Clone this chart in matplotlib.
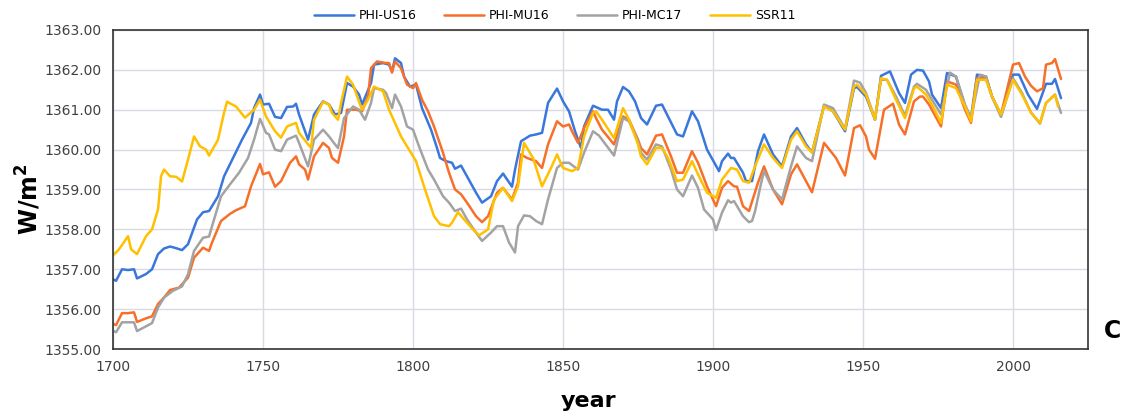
import matplotlib
matplotlib.use("Agg")
import matplotlib.pyplot as plt
from matplotlib.ticker import FormatStrFormatter, MultipleLocator

# PHI-US16
us16_years = [1700, 1701, 1703, 1705, 1707, 1708, 1711, 1713, 1715, 1717, 1719, 1721, 1723, 1725,
              1728, 1730, 1732, 1735, 1737, 1740, 1743, 1746, 1747, 1749, 1750, 1752, 1754, 1756,
              1758, 1760, 1761, 1762, 1765, 1767, 1770, 1772, 1774, 1776, 1778, 1780, 1782, 1783,
              1786, 1787, 1790, 1792, 1793, 1794, 1796, 1797, 1799, 1801, 1803, 1806, 1808, 1809,
              1811, 1813, 1814, 1816, 1818, 1821, 1823, 1826, 1828, 1830, 1833, 1834, 1836, 1839,
              1841, 1843, 1845, 1848, 1850, 1852, 1854, 1856, 1857, 1860, 1863, 1865, 1867, 1868,
              1870, 1872, 1874, 1876, 1878, 1881, 1883, 1885, 1888, 1890, 1893, 1895, 1898, 1902,
              1903, 1905, 1906, 1907, 1910, 1911, 1913, 1915, 1917, 1920, 1923, 1926, 1928, 1931,
              1933, 1937, 1940, 1944, 1947, 1948, 1951, 1954, 1956, 1959, 1962, 1964, 1966, 1968,
              1970, 1972, 1973, 1976, 1978, 1981, 1984, 1986, 1988, 1991, 1993, 1996, 2000, 2002,
              2005, 2008, 2011, 2013, 2014, 2016]
us16 = [1356.75, 1356.71, 1357.00, 1356.98, 1357.00, 1356.77, 1356.88, 1357.00, 1357.38, 1357.52,
        1357.57, 1357.53, 1357.48, 1357.63, 1358.25, 1358.43, 1358.46, 1358.83, 1359.33, 1359.79,
        1360.25, 1360.67, 1361.04, 1361.38, 1361.13, 1361.15, 1360.82, 1360.79, 1361.07, 1361.08,
        1361.15, 1360.88, 1360.25, 1360.88, 1361.21, 1361.13, 1360.88, 1360.92, 1361.67, 1361.58,
        1361.38, 1361.13, 1361.67, 1362.13, 1362.17, 1362.13, 1361.96, 1362.29, 1362.17, 1361.83,
        1361.58, 1361.63, 1361.04, 1360.50, 1360.04, 1359.79, 1359.71, 1359.67, 1359.52, 1359.60,
        1359.33, 1358.92, 1358.67, 1358.83, 1359.21, 1359.40, 1359.07, 1359.50, 1360.21, 1360.35,
        1360.38, 1360.42, 1361.17, 1361.53, 1361.21, 1360.96, 1360.46, 1360.04, 1360.58, 1361.10,
        1361.00, 1361.00, 1360.75, 1361.21, 1361.57, 1361.46, 1361.21, 1360.79, 1360.63, 1361.10,
        1361.13, 1360.83, 1360.38, 1360.33, 1360.96, 1360.71, 1360.00, 1359.46, 1359.71, 1359.90,
        1359.79, 1359.79, 1359.42, 1359.21, 1359.21, 1359.96, 1360.38, 1359.88, 1359.58, 1360.33,
        1360.54, 1360.13, 1359.93, 1361.10, 1360.96, 1360.46, 1361.54, 1361.57, 1361.33, 1360.75,
        1361.85, 1361.96, 1361.42, 1361.17, 1361.88, 1362.00, 1361.98, 1361.71, 1361.38, 1361.04,
        1361.92, 1361.83, 1361.08, 1360.79, 1361.88, 1361.83, 1361.33, 1360.85, 1361.88, 1361.88,
        1361.38, 1361.02, 1361.65, 1361.65, 1361.77, 1361.29]

# PHI-MU16
mu16_years = [1700, 1701, 1703, 1705, 1707, 1708, 1711, 1713, 1715, 1717, 1719, 1722, 1725, 1727,
              1730, 1732, 1733, 1736, 1739, 1741, 1744, 1746, 1749, 1750, 1752, 1754, 1756, 1759,
              1761, 1762, 1764, 1765, 1767, 1770, 1772, 1773, 1775, 1777, 1778, 1781, 1783, 1785,
              1786, 1788, 1791, 1792, 1793, 1794, 1796, 1798, 1800, 1801, 1803, 1805, 1807, 1810,
              1812, 1814, 1816, 1818, 1821, 1823, 1825, 1828, 1830, 1833, 1835, 1836, 1838, 1841,
              1843, 1845, 1848, 1850, 1852, 1853, 1855, 1857, 1860, 1861, 1863, 1867, 1870, 1872,
              1875, 1876, 1878, 1881, 1883, 1886, 1888, 1890, 1893, 1895, 1898, 1901, 1903, 1905,
              1907, 1908, 1910, 1912, 1915, 1917, 1920, 1923, 1926, 1928, 1931, 1933, 1937, 1941,
              1944, 1947, 1949, 1951, 1952, 1954, 1957, 1960, 1962, 1964, 1967, 1969, 1970, 1972,
              1976, 1978, 1981, 1984, 1986, 1988, 1991, 1993, 1996, 2000, 2002, 2004, 2006, 2008,
              2010, 2011, 2013, 2014, 2016]
mu16 = [1355.63, 1355.60, 1355.90, 1355.90, 1355.92, 1355.68, 1355.77, 1355.82, 1356.13, 1356.29,
        1356.48, 1356.54, 1356.79, 1357.29, 1357.54, 1357.46, 1357.67, 1358.21, 1358.39, 1358.48,
        1358.58, 1359.08, 1359.64, 1359.38, 1359.43, 1359.07, 1359.21, 1359.67, 1359.83, 1359.63,
        1359.50, 1359.25, 1359.83, 1360.17, 1360.04, 1359.79, 1359.67, 1360.33, 1361.00, 1361.00,
        1360.96, 1361.33, 1362.04, 1362.21, 1362.17, 1362.17, 1361.93, 1362.21, 1362.04, 1361.63,
        1361.54, 1361.67, 1361.25, 1360.96, 1360.58, 1359.92, 1359.42, 1359.00, 1358.88, 1358.67,
        1358.33, 1358.18, 1358.33, 1358.92, 1359.04, 1358.75, 1359.17, 1359.88, 1359.79, 1359.71,
        1359.54, 1360.13, 1360.71, 1360.58, 1360.63, 1360.46, 1360.17, 1360.54, 1360.96, 1360.79,
        1360.50, 1360.13, 1360.83, 1360.75, 1360.25, 1360.04, 1359.88, 1360.35, 1360.38, 1359.83,
        1359.42, 1359.42, 1359.96, 1359.67, 1359.08, 1358.58, 1359.04, 1359.21, 1359.08, 1359.07,
        1358.58, 1358.46, 1359.17, 1359.58, 1359.00, 1358.63, 1359.38, 1359.63, 1359.21, 1358.93,
        1360.17, 1359.79, 1359.35, 1360.54, 1360.61, 1360.33, 1360.00, 1359.77, 1361.00, 1361.15,
        1360.63, 1360.38, 1361.21, 1361.33, 1361.33, 1361.13, 1360.58, 1361.71, 1361.63, 1361.00,
        1360.67, 1361.79, 1361.79, 1361.33, 1360.88, 1362.13, 1362.17, 1361.83, 1361.60, 1361.46,
        1361.54, 1362.13, 1362.17, 1362.27, 1361.77]

# PHI-MC17
mc17_years = [1700, 1701, 1703, 1705, 1707, 1708, 1711, 1713, 1715, 1717, 1720, 1723, 1725, 1727,
              1730, 1732, 1733, 1736, 1739, 1742, 1745, 1747, 1749, 1751, 1752, 1754, 1756, 1758,
              1761, 1762, 1765, 1767, 1770, 1772, 1774, 1775, 1777, 1780, 1782, 1784, 1786, 1787,
              1790, 1791, 1793, 1794, 1796, 1798, 1800, 1802, 1805, 1807, 1810, 1812, 1814, 1816,
              1818, 1821, 1823, 1826, 1828, 1830, 1832, 1834, 1835, 1837, 1839, 1841, 1843, 1845,
              1848, 1850, 1852, 1855, 1857, 1860, 1862, 1863, 1867, 1870, 1872, 1875, 1876, 1878,
              1881, 1883, 1886, 1888, 1890, 1893, 1895, 1897, 1900, 1901, 1903, 1905, 1906, 1907,
              1910, 1912, 1913, 1914, 1916, 1917, 1920, 1923, 1926, 1928, 1931, 1933, 1937, 1940,
              1944, 1947, 1949, 1951, 1954, 1956, 1958, 1961, 1964, 1967, 1968, 1971, 1973, 1976,
              1979, 1981, 1984, 1986, 1989, 1991, 1993, 1996, 2000, 2003, 2006, 2009, 2011, 2014,
              2016]
mc17 = [1355.46, 1355.42, 1355.67, 1355.67, 1355.67, 1355.45, 1355.57, 1355.65, 1356.04, 1356.29,
        1356.46, 1356.57, 1356.88, 1357.46, 1357.79, 1357.82, 1358.08, 1358.83, 1359.13, 1359.42,
        1359.79, 1360.25, 1360.77, 1360.42, 1360.38, 1360.00, 1359.96, 1360.25, 1360.35, 1360.17,
        1359.58, 1360.25, 1360.50, 1360.33, 1360.13, 1360.04, 1360.79, 1361.08, 1361.00, 1360.75,
        1361.17, 1361.54, 1361.50, 1361.42, 1361.04, 1361.38, 1361.08, 1360.58, 1360.50, 1360.08,
        1359.50, 1359.25, 1358.83, 1358.67, 1358.46, 1358.52, 1358.25, 1357.92, 1357.71, 1357.92,
        1358.08, 1358.08, 1357.67, 1357.42, 1358.08, 1358.35, 1358.33, 1358.21, 1358.13, 1358.75,
        1359.54, 1359.67, 1359.67, 1359.50, 1359.92, 1360.46, 1360.35, 1360.25, 1359.85, 1360.79,
        1360.71, 1360.21, 1359.92, 1359.75, 1360.13, 1360.08, 1359.50, 1359.00, 1358.83, 1359.35,
        1359.04, 1358.50, 1358.25, 1357.98, 1358.42, 1358.73, 1358.67, 1358.71, 1358.33, 1358.18,
        1358.21, 1358.45, 1359.15, 1359.46, 1359.00, 1358.75, 1359.58, 1360.08, 1359.79, 1359.71,
        1361.13, 1361.04, 1360.52, 1361.73, 1361.68, 1361.42, 1360.77, 1361.75, 1361.75, 1361.33,
        1360.85, 1361.58, 1361.65, 1361.50, 1361.25, 1360.88, 1361.93, 1361.83, 1361.13, 1360.79,
        1361.88, 1361.83, 1361.33, 1360.82, 1361.79, 1361.42, 1360.93, 1360.65, 1361.17, 1361.38,
        1360.92]

# SSR11
ssr11_years = [1700, 1702, 1705, 1706, 1708, 1711, 1713, 1715, 1716, 1717, 1719, 1721, 1723, 1725,
               1727, 1729, 1731, 1732, 1735, 1737, 1738, 1741, 1744, 1747, 1749, 1751, 1754, 1756,
               1758, 1761, 1762, 1766, 1767, 1770, 1772, 1773, 1775, 1776, 1778, 1780, 1782, 1783,
               1785, 1787, 1790, 1792, 1796, 1801, 1804, 1807, 1809, 1812, 1813, 1815, 1817, 1820,
               1822, 1825, 1827, 1830, 1833, 1835, 1837, 1840, 1843, 1846, 1848, 1850, 1853, 1855,
               1857, 1860, 1861, 1863, 1867, 1870, 1872, 1875, 1876, 1878, 1881, 1883, 1885, 1888,
               1890, 1893, 1895, 1898, 1901, 1903, 1906, 1908, 1910, 1912, 1914, 1917, 1920, 1923,
               1926, 1928, 1931, 1933, 1937, 1940, 1944, 1947, 1948, 1951, 1954, 1956, 1958, 1961,
               1964, 1967, 1968, 1971, 1973, 1976, 1978, 1981, 1984, 1986, 1988, 1991, 1993, 1996,
               2000, 2003, 2006, 2009, 2011, 2014, 2015]
ssr11 = [1357.35, 1357.50, 1357.83, 1357.50, 1357.38, 1357.83, 1358.00, 1358.50, 1359.33, 1359.50,
         1359.33, 1359.32, 1359.20, 1359.75, 1360.33, 1360.08, 1360.00, 1359.85, 1360.25, 1360.92,
         1361.20, 1361.08, 1360.80, 1361.00, 1361.25, 1360.83, 1360.46, 1360.30, 1360.58, 1360.67,
         1360.42, 1360.04, 1360.75, 1361.20, 1361.13, 1360.92, 1360.75, 1361.17, 1361.83, 1361.63,
         1361.20, 1361.00, 1361.25, 1361.58, 1361.46, 1361.00, 1360.33, 1359.71, 1359.00, 1358.33,
         1358.13, 1358.08, 1358.17, 1358.43, 1358.25, 1358.00, 1357.85, 1358.00, 1358.75, 1359.04,
         1358.71, 1359.08, 1360.17, 1359.79, 1359.08, 1359.54, 1359.88, 1359.54, 1359.46, 1359.54,
         1360.33, 1360.92, 1360.96, 1360.75, 1360.29, 1361.04, 1360.75, 1360.13, 1359.83, 1359.63,
         1360.04, 1360.04, 1359.79, 1359.21, 1359.25, 1359.71, 1359.38, 1358.92, 1358.79, 1359.25,
         1359.54, 1359.50, 1359.21, 1359.17, 1359.58, 1360.13, 1359.79, 1359.54, 1360.25, 1360.46,
         1360.08, 1359.93, 1361.08, 1360.96, 1360.50, 1361.58, 1361.63, 1361.38, 1360.75, 1361.79,
         1361.75, 1361.25, 1360.79, 1361.54, 1361.58, 1361.38, 1361.13, 1360.67, 1361.63, 1361.54,
         1361.08, 1360.71, 1361.75, 1361.75, 1361.33, 1360.88, 1361.75, 1361.38, 1360.92, 1360.67,
         1361.17, 1361.38, 1361.08]

fig = plt.figure(figsize=(11.27, 4.16), dpi=100)
ax = fig.add_axes([0.1003, 0.161, 0.8651, 0.767])

line_kw = dict(lw=1.8, solid_joinstyle='round', solid_capstyle='round')
ax.plot(us16_years, us16, color='#3a77dc', label='PHI-US16', **line_kw)
ax.plot(mu16_years, mu16, color='#f7702a', label='PHI-MU16', **line_kw)
ax.plot(mc17_years, mc17, color='#a3a3a3', label='PHI-MC17', **line_kw)
ax.plot(ssr11_years, ssr11, color='#ffc000', label='SSR11', **line_kw)

ax.set_xlim(1700, 2025)
ax.set_ylim(1355, 1363)
ax.xaxis.set_major_locator(MultipleLocator(50))
ax.yaxis.set_major_locator(MultipleLocator(1))
ax.yaxis.set_major_formatter(FormatStrFormatter('%.2f'))
ax.grid(True, color='#d9dae3', lw=1)
ax.set_axisbelow(True)
ax.tick_params(length=0, pad=8, labelsize=10, labelcolor='#404040')
for sp in ax.spines.values():
    sp.set_color('#333333')
    sp.set_linewidth(1.2)

fig.text(0.025, 0.52, 'W/m$^{\\mathbf{2}}$', rotation=90, fontsize=17, fontweight='bold',
         ha='center', va='center')
fig.text(0.522, 0.035, 'year', fontsize=16, fontweight='bold', ha='center', va='center')
fig.text(0.987, 0.205, 'C', fontsize=17, fontweight='bold', ha='center', va='center')

fig.legend(loc='center', bbox_to_anchor=(0.492, 0.962), ncol=4, frameon=False, fontsize=9,
           handlelength=3.2, columnspacing=2.2, handletextpad=0.4)

fig.savefig('out.png', dpi=100)
